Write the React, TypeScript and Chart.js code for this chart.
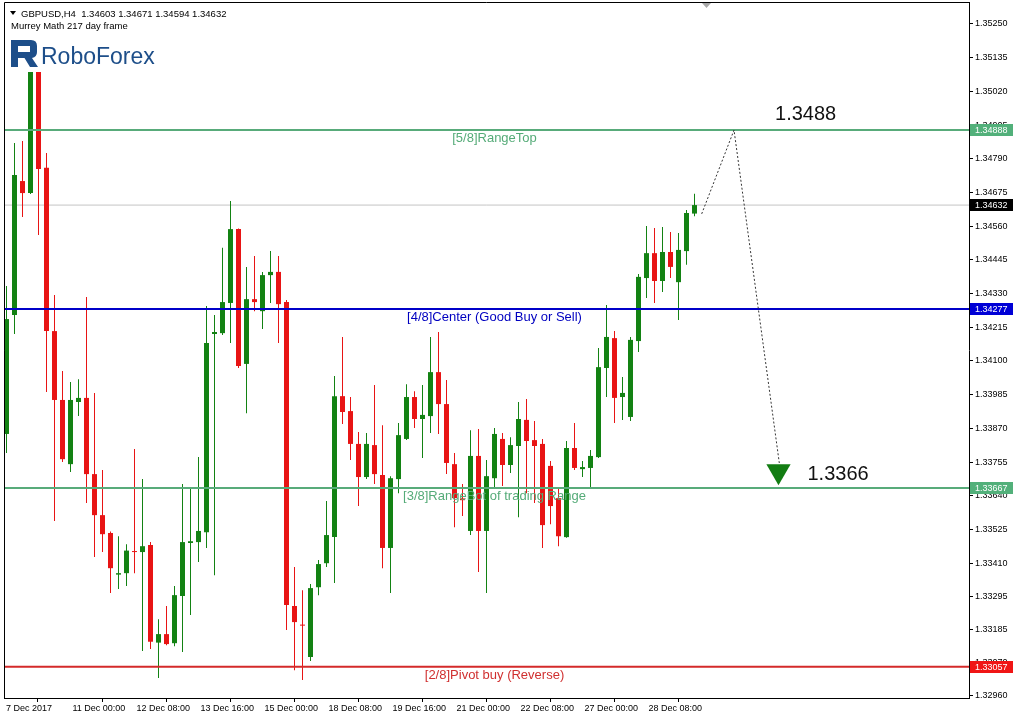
import React, { useEffect, useRef } from "react";
import { Chart, registerables } from "chart.js";

Chart.register(...registerables);

// ---------------- data ----------------
const SYMBOL = "GBPUSD,H4";
const SUBTITLE = "Murrey Math 217 day frame";
const BRAND = "RoboForex";

const opens = [
  1.33851, 1.34257, 1.34714, 1.34673, 1.35195,
  1.34759, 1.34202, 1.33967, 1.33748, 1.33960,
  1.33974, 1.33714, 1.33574, 1.33513, 1.33371,
  1.33376, 1.33451, 1.33448, 1.33472, 1.33139,
  1.33168, 1.33137, 1.33298, 1.33479, 1.33482,
  1.33516, 1.34192, 1.34195, 1.34298, 1.34550,
  1.34090, 1.34311, 1.34270, 1.34393, 1.34404,
  1.34301, 1.33264, 1.33200, 1.33090, 1.33328,
  1.33410, 1.33499, 1.33980, 1.33929, 1.33817,
  1.33704, 1.33813, 1.33711, 1.33462, 1.33697,
  1.33834, 1.33977, 1.33902, 1.33912, 1.34062,
  1.33953, 1.33748, 1.33631, 1.33520, 1.33776,
  1.33520, 1.33700, 1.33834, 1.33745, 1.33810,
  1.33899, 1.33830, 1.33817, 1.33742, 1.33632,
  1.33499, 1.33803, 1.33731, 1.33735, 1.33772,
  1.34076, 1.34178, 1.33977, 1.33909, 1.34168,
  1.34383, 1.34468, 1.34373, 1.34472, 1.34369,
  1.34475, 1.34603,
];

const highs = [
  1.34356, 1.34844, 1.34851, 1.35257, 1.35230,
  1.34810, 1.34325, 1.34066, 1.34028, 1.34038,
  1.34318, 1.33991, 1.33728, 1.33518, 1.33502,
  1.33475, 1.33800, 1.33697, 1.33482, 1.33219,
  1.33264, 1.33332, 1.33680, 1.33663, 1.33772,
  1.34288, 1.34257, 1.34486, 1.34646, 1.34552,
  1.34421, 1.34458, 1.34404, 1.34475, 1.34458,
  1.34308, 1.33397, 1.33318, 1.33339, 1.33421,
  1.33622, 1.34049, 1.34182, 1.33977, 1.33858,
  1.33854, 1.34018, 1.33881, 1.33707, 1.33888,
  1.34021, 1.33997, 1.34018, 1.34182, 1.34199,
  1.34035, 1.33786, 1.33680, 1.33864, 1.33868,
  1.33762, 1.33871, 1.33854, 1.33840, 1.33960,
  1.33970, 1.33895, 1.33834, 1.33759, 1.33666,
  1.33827, 1.33888, 1.33759, 1.33796, 1.34144,
  1.34291, 1.34202, 1.34045, 1.34182, 1.34397,
  1.34561, 1.34554, 1.34557, 1.34540, 1.34537,
  1.34615, 1.34671,
];

const lows = [
  1.33786, 1.34192, 1.34591, 1.34670, 1.34530,
  1.33994, 1.33554, 1.33755, 1.33721, 1.33912,
  1.33615, 1.33431, 1.33448, 1.33308, 1.33322,
  1.33332, 1.33376, 1.33110, 1.33117, 1.33018,
  1.33130, 1.33127, 1.33107, 1.33233, 1.33414,
  1.33462, 1.33369, 1.34189, 1.34161, 1.34076,
  1.33922, 1.34270, 1.34209, 1.34298, 1.34161,
  1.33182, 1.33045, 1.33011, 1.33076, 1.33301,
  1.33397, 1.33342, 1.33885, 1.33762, 1.33605,
  1.33697, 1.33680, 1.33393, 1.33308, 1.33649,
  1.33830, 1.33871, 1.33769, 1.33854, 1.33851,
  1.33714, 1.33533, 1.33571, 1.33506, 1.33380,
  1.33308, 1.33670, 1.33673, 1.33718, 1.33567,
  1.33649, 1.33615, 1.33462, 1.33543, 1.33468,
  1.33497, 1.33728, 1.33704, 1.33670, 1.33769,
  1.33977, 1.33888, 1.33899, 1.33895, 1.34131,
  1.34315, 1.34298, 1.34335, 1.34383, 1.34240,
  1.34428, 1.34594,
];

const closes = [
  1.34243, 1.34735, 1.34673, 1.35195, 1.34755,
  1.34202, 1.33967, 1.33765, 1.33967, 1.33974,
  1.33714, 1.33574, 1.33509, 1.33393, 1.33376,
  1.33453, 1.33448, 1.33468, 1.33142, 1.33168,
  1.33134, 1.33301, 1.33482, 1.33485, 1.33520,
  1.34161, 1.34199, 1.34301, 1.34550, 1.34083,
  1.34311, 1.34301, 1.34393, 1.34404, 1.34294,
  1.33267, 1.33209, 1.33197, 1.33325, 1.33407,
  1.33506, 1.33980, 1.33926, 1.33817, 1.33704,
  1.33817, 1.33714, 1.33462, 1.33700, 1.33847,
  1.33977, 1.33902, 1.33916, 1.34062, 1.33953,
  1.33752, 1.33632, 1.33625, 1.33776, 1.33520,
  1.33707, 1.33851, 1.33745, 1.33813, 1.33902,
  1.33827, 1.33810, 1.33540, 1.33605, 1.33502,
  1.33803, 1.33735, 1.33738, 1.33776, 1.34079,
  1.34182, 1.33974, 1.33991, 1.34172, 1.34387,
  1.34468, 1.34373, 1.34472, 1.34421, 1.34479,
  1.34605, 1.34632,
];

const xTickPositions = [-0.3125, 8, 16, 24, 32, 40, 48, 56, 64, 72, 80];
const xTickLabels = [
  "7 Dec 2017", "11 Dec 00:00", "12 Dec 08:00", "13 Dec 16:00", "15 Dec 00:00",
  "18 Dec 08:00", "19 Dec 16:00", "21 Dec 00:00", "22 Dec 08:00", "27 Dec 00:00", "28 Dec 08:00",
];

const yTickValues = [
  1.3525, 1.35135, 1.3502, 1.34905, 1.3479, 1.34675, 1.3456, 1.34445, 1.3433, 1.34215,
  1.341, 1.33985, 1.3387, 1.33755, 1.3364, 1.33525, 1.3341, 1.33295, 1.33185, 1.3307, 1.3296,
];

const levelValues = [1.34888, 1.34277, 1.33667, 1.33057];
const levelNames = [
  "[5/8]RangeTop",
  "[4/8]Center (Good Buy or Sell)",
  "[3/8]RangeBot of trading Range",
  "[2/8]Pivot buy (Reverse)",
];

const projectionX = [86.9, 90.94, 96.6];
const projectionY = [1.34602, 1.34888, 1.33752];
const arrowX = [96.5];
const arrowY = [1.33724];
const targetLabels = ["1.3488", "1.3366"];

// ---------------- styles ----------------
const X_MIN = -0.3125;
const X_MAX = 120.3125;
const Y_MIN = 1.3295;
const Y_MAX = 1.35325;
const LEVEL_CAPTION_X = 61;
const FONT = '"Liberation Sans", Arial, sans-serif';
const BULL = "#138213";
const BEAR = "#e81414";
const levelLineColors = ["#58ab7a", "#0000c8", "#58ab7a", "#d42a2a"];
const levelTextColors = ["#55ab78", "#0000c0", "#55ab78", "#d03030"];
const levelBoxColors = ["#52b07a", "#0000d6", "#52b07a", "#f01515"];

const fmt = (v: number) => v.toFixed(5);

const overlayPlugin = {
  id: "mt4Overlay",
  afterDatasetsDraw(chart: any) {
    const { ctx, chartArea: a, scales } = chart;
    const xs = scales.x;
    const ys = scales.y;
    ctx.save();

    // Murrey level captions
    ctx.font = `13px ${FONT}`;
    ctx.textAlign = "center";
    ctx.textBaseline = "middle";
    levelValues.forEach((v, i) => {
      ctx.fillStyle = levelTextColors[i];
      ctx.fillText(levelNames[i], xs.getPixelForValue(LEVEL_CAPTION_X), ys.getPixelForValue(v) + 8.5);
    });

    // target labels
    ctx.font = `20px ${FONT}`;
    ctx.fillStyle = "#111";
    ctx.textAlign = "left";
    ctx.textBaseline = "alphabetic";
    ctx.fillText(targetLabels[0], xs.getPixelForValue(projectionX[1]) + 41, ys.getPixelForValue(levelValues[0]) - 10);
    ctx.fillText(targetLabels[1], xs.getPixelForValue(arrowX[0]) + 29, ys.getPixelForValue(levelValues[2]) - 8);

    // header area
    ctx.fillStyle = "#fff";
    ctx.fillRect(a.left + 1, a.top + 1, 161, 72 - a.top - 1);
    ctx.fillStyle = "#000";
    ctx.beginPath();
    ctx.moveTo(10, 11);
    ctx.lineTo(16, 11);
    ctx.lineTo(13, 15);
    ctx.closePath();
    ctx.fill();
    const n = closes.length - 1;
    ctx.font = `9.5px ${FONT}`;
    ctx.textAlign = "left";
    ctx.textBaseline = "middle";
    ctx.fillText(`${SYMBOL}  ${fmt(opens[n])} ${fmt(highs[n])} ${fmt(lows[n])} ${fmt(closes[n])}`, 21, 14);
    ctx.fillText(SUBTITLE, 11, 26);

    // logo
    ctx.fillStyle = "#1d4e89";
    ctx.beginPath();
    ctx.moveTo(11, 40);
    ctx.lineTo(31, 40);
    ctx.quadraticCurveTo(37, 40, 37, 46);
    ctx.lineTo(37, 52);
    ctx.quadraticCurveTo(37, 57, 32, 58);
    ctx.lineTo(38, 67);
    ctx.lineTo(30, 67);
    ctx.lineTo(24.5, 58);
    ctx.lineTo(18, 58);
    ctx.lineTo(18, 67);
    ctx.lineTo(11, 67);
    ctx.closePath();
    ctx.moveTo(18, 46);
    ctx.lineTo(18, 52);
    ctx.lineTo(30, 52);
    ctx.lineTo(30, 46);
    ctx.closePath();
    ctx.fill("evenodd");
    ctx.font = `23px ${FONT}`;
    ctx.textBaseline = "alphabetic";
    ctx.fillText(BRAND, 41, 64);

    // frame (left & top)
    ctx.strokeStyle = "#000";
    ctx.lineWidth = 1;
    ctx.beginPath();
    ctx.moveTo(a.left + 0.5, a.bottom);
    ctx.lineTo(a.left + 0.5, a.top + 0.5);
    ctx.lineTo(a.right, a.top + 0.5);
    ctx.stroke();

    // chart shift marker
    ctx.fillStyle = "#a8a8a8";
    ctx.beginPath();
    ctx.moveTo(702, a.top + 1);
    ctx.lineTo(711, a.top + 1);
    ctx.lineTo(706.5, a.top + 6);
    ctx.closePath();
    ctx.fill();

    // price boxes on the axis
    const boxes = [
      { v: levelValues[0], c: levelBoxColors[0] },
      { v: closes[n], c: "#000" },
      { v: levelValues[1], c: levelBoxColors[1] },
      { v: levelValues[2], c: levelBoxColors[2] },
      { v: levelValues[3], c: levelBoxColors[3] },
    ];
    ctx.font = `9px ${FONT}`;
    ctx.textAlign = "left";
    ctx.textBaseline = "middle";
    boxes.forEach((b) => {
      const py = Math.round(ys.getPixelForValue(b.v));
      ctx.fillStyle = b.c;
      ctx.fillRect(a.right + 1, py - 6, chart.width - a.right - 1, 12);
      ctx.fillStyle = "#fff";
      ctx.fillText(fmt(b.v), a.right + 6, py + 0.5);
    });

    ctx.restore();
  },
};

export default function App() {
  const ref = useRef<HTMLCanvasElement | null>(null);

  useEffect(() => {
    const canvas = ref.current;
    if (!canvas) return;
    const idx = closes.map((_, i) => i);
    const candleColors = closes.map((c, i) => (c >= opens[i] ? BULL : BEAR));
    const last = closes[closes.length - 1];

    const levelDatasets = levelValues.map((v, i) => ({
      type: "line" as const,
      label: levelNames[i],
      data: [
        { x: X_MIN, y: v },
        { x: X_MAX, y: v },
      ],
      borderColor: levelLineColors[i],
      borderWidth: 2,
      pointRadius: 0,
      order: 3,
    }));

    const chart = new Chart(canvas, {
      type: "bar",
      data: {
        datasets: [
          {
            type: "line",
            label: "bid",
            data: [
              { x: X_MIN, y: last },
              { x: X_MAX, y: last },
            ],
            borderColor: "#c4c4c4",
            borderWidth: 1,
            pointRadius: 0,
            order: 7,
          },
          {
            type: "bar",
            label: "wicks",
            data: idx.map((i) => ({ x: i, y: [lows[i], highs[i]] })),
            backgroundColor: candleColors,
            barThickness: 1,
            grouped: false,
            inflateAmount: 0,
            borderWidth: 0,
            order: 6,
          },
          {
            type: "bar",
            label: "bodies",
            data: idx.map((i) => ({ x: i, y: [opens[i], closes[i]] })),
            backgroundColor: candleColors,
            barThickness: 5,
            minBarLength: 1,
            grouped: false,
            inflateAmount: 0,
            borderWidth: 0,
            order: 5,
          },
          ...levelDatasets,
          {
            type: "line",
            label: "projection",
            data: projectionX.map((x, i) => ({ x, y: projectionY[i] })),
            borderColor: "#333",
            borderWidth: 1,
            borderDash: [2, 2],
            pointRadius: 0,
            order: 2,
          },
          {
            type: "line",
            label: "target",
            data: arrowX.map((x, i) => ({ x, y: arrowY[i] })),
            showLine: false,
            pointStyle: "triangle",
            rotation: 180,
            pointRadius: 14,
            pointBackgroundColor: "#137d13",
            pointBorderColor: "#137d13",
            pointBorderWidth: 0,
            order: 1,
          },
        ] as any,
      },
      options: {
        responsive: false,
        animation: false,
        devicePixelRatio: 1,
        events: [],
        layout: { autoPadding: false, padding: { left: 4, top: 2, right: 0, bottom: 0 } },
        plugins: { legend: { display: false }, tooltip: { enabled: false } },
        scales: {
          x: {
            type: "linear",
            min: X_MIN,
            max: X_MAX,
            bounds: "data",
            offset: false,
            afterBuildTicks: (s: any) => {
              s.ticks = xTickPositions.map((v) => ({ value: v }));
            },
            afterFit: (s: any) => {
              s.height = 20;
              s.paddingLeft = 0;
              s.paddingRight = 0;
              s.paddingTop = 0;
              s.paddingBottom = 0;
            },
            ticks: {
              callback: (_v: any, i: number) => xTickLabels[i],
              align: "start",
              labelOffset: 2,
              maxRotation: 0,
              autoSkip: false,
              padding: 1,
              color: "#000",
              font: { family: FONT, size: 9 },
            },
            grid: { drawOnChartArea: false, drawTicks: true, tickLength: 4, color: "#000" },
            border: { display: true, color: "#000" },
          },
          y: {
            type: "linear",
            position: "right",
            min: Y_MIN,
            max: Y_MAX,
            bounds: "data",
            afterBuildTicks: (s: any) => {
              s.ticks = yTickValues.map((v) => ({ value: v }));
            },
            afterFit: (s: any) => {
              s.width = 44;
              s.paddingLeft = 0;
              s.paddingRight = 0;
              s.paddingTop = 0;
              s.paddingBottom = 0;
            },
            ticks: {
              callback: (v: any) => Number(v).toFixed(5),
              autoSkip: false,
              padding: 2,
              color: "#000",
              font: { family: FONT, size: 9 },
            },
            grid: { drawOnChartArea: false, drawTicks: true, tickLength: 4, color: "#000" },
            border: { display: true, color: "#000" },
          },
        },
      } as any,
      plugins: [overlayPlugin],
    });
    return () => chart.destroy();
  }, []);

  return (
    <div style={{ position: "fixed", left: 0, top: 0, width: 1013, height: 718, background: "#fff" }}>
      <canvas ref={ref} width={1013} height={718} style={{ display: "block", width: 1013, height: 718 }} />
    </div>
  );
}
